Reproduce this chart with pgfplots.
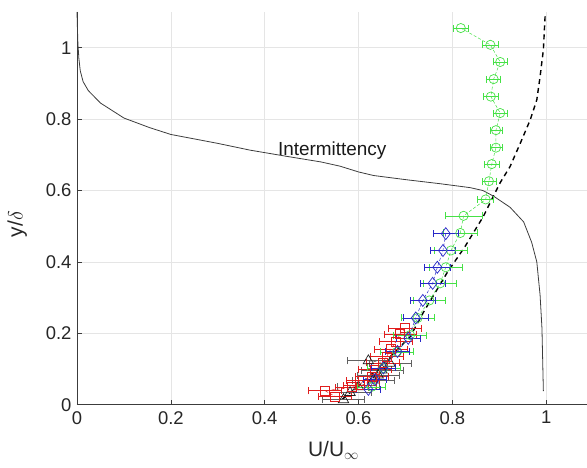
\documentclass[border=0pt]{standalone}
\usepackage{pgfplots}
\pgfplotsset{compat=1.18}
\usepackage{pgfplotstable}
\usepackage{fontspec}
\setmainfont{Liberation Sans}

\definecolor{expgreen}{RGB}{70,225,70}
\definecolor{expblue}{RGB}{40,40,200}
\definecolor{expred}{RGB}{225,30,30}
\definecolor{expblack}{RGB}{30,30,30}
\definecolor{intgray}{RGB}{60,60,60}

% Measured mean-velocity profiles: U/Uinf, y/delta, x-error
\pgfplotstableread{
x y ex
0.818 1.055 0.017
0.881 1.008 0.017
0.902 0.960 0.015
0.888 0.912 0.015
0.882 0.863 0.015
0.902 0.817 0.015
0.893 0.769 0.013
0.893 0.720 0.013
0.884 0.674 0.015
0.878 0.626 0.015
0.871 0.575 0.017
0.824 0.529 0.040
0.817 0.481 0.036
0.797 0.432 0.035
0.786 0.385 0.035
0.774 0.340 0.035
0.751 0.292 0.035
0.726 0.243 0.035
0.710 0.195 0.035
0.682 0.148 0.035
0.653 0.103 0.035
0.628 0.050 0.030
}\greendata

\pgfplotstableread{
x y ex
0.786 0.479 0.027
0.780 0.432 0.027
0.768 0.385 0.027
0.758 0.340 0.027
0.737 0.292 0.027
0.722 0.243 0.027
0.706 0.186 0.025
0.683 0.149 0.025
0.653 0.103 0.025
0.635 0.070 0.025
0.621 0.043 0.025
}\bluedata

\pgfplotstableread{
x y ex
0.699 0.214 0.035
0.689 0.198 0.035
0.680 0.177 0.035
0.669 0.156 0.035
0.660 0.135 0.035
0.651 0.117 0.035
0.635 0.098 0.035
0.628 0.079 0.035
0.610 0.067 0.035
0.603 0.055 0.035
0.586 0.049 0.035
0.529 0.039 0.035
0.550 0.023 0.035
}\reddata

\pgfplotstableread{
x y ex
0.621 0.123 0.045
0.667 0.116 0.045
0.650 0.097 0.045
0.642 0.083 0.045
0.631 0.069 0.045
0.600 0.050 0.045
0.582 0.034 0.045
0.568 0.014 0.045
}\blackdata

% Intermittency profile
\pgfplotstableread{
x y
0.000 1.100
0.001 1.050
0.002 1.010
0.004 0.970
0.007 0.935
0.013 0.905
0.024 0.880
0.050 0.845
0.100 0.803
0.155 0.776
0.200 0.757
0.300 0.732
0.369 0.713
0.450 0.695
0.520 0.680
0.561 0.668
0.600 0.652
0.632 0.642
0.703 0.630
0.774 0.619
0.838 0.608
0.865 0.600
0.888 0.584
0.923 0.553
0.952 0.512
0.969 0.455
0.980 0.400
0.987 0.307
0.991 0.214
0.994 0.038
}\interm

% Reference profile
\pgfplotstableread{
x y
0.565 0.015
0.597 0.050
0.646 0.106
0.710 0.190
0.738 0.258
0.789 0.370
0.827 0.443
0.845 0.482
0.866 0.527
0.887 0.583
0.902 0.622
0.923 0.667
0.945 0.733
0.966 0.798
0.980 0.854
0.987 0.919
0.994 0.994
0.998 1.097
}\reference

\begin{document}
\begin{tikzpicture}
\begin{axis}[
  scale only axis,
  width=510bp, height=392.7bp,
  xmin=0, xmax=1.087, ymin=0, ymax=1.1,
  xtick={0,0.2,0.4,0.6,0.8,1},
  ytick={0,0.2,0.4,0.6,0.8,1},
  xticklabels={0,0.2,0.4,0.6,0.8,1},
  yticklabels={0,0.2,0.4,0.6,0.8,1},
  axis x line*=bottom, axis y line*=left,
  axis line style={-, draw=intgray, line width=0.8pt},
  tick align=inside, major tick length=5bp,
  tick style={intgray, line width=0.6pt},
  grid=major,
  major grid style={black!10, line width=0.5pt},
  ticklabel style={font=\fontsize{18.5}{20}\selectfont, text=black!85},
  xticklabel style={yshift=-3bp},
  yticklabel style={xshift=-2bp},
  xlabel={U/U$_{\infty}$},
  ylabel={y/$\delta$},
  label style={font=\fontsize{21}{24}\selectfont, text=black!85},
  xlabel style={at={(axis description cs:0.503,0)}, anchor=base, yshift=-52bp},
  ylabel style={at={(axis description cs:-0.117,0.46)}, anchor=center, rotate=0},
  clip=false,
  error bars/error bar style={solid, line width=0.6pt},
  error bars/error mark options={solid, rotate=90, mark size=3.5bp, line width=0.6pt},
]

\addplot[intgray, line width=0.8pt] table[x=x,y=y] {\interm};
\addplot[black, line width=1.4pt, dash pattern=on 5bp off 4bp] table[x=x,y=y] {\reference};

\addplot[expblack!75, line width=0.5pt, densely dashed,
  mark=triangle, mark size=6bp, mark options={solid, expblack, line width=0.7pt},
  error bars/.cd, x dir=both, x explicit,
  error bar style={solid, expblack!70, line width=0.6pt}]
  table[x=x,y=y,x error=ex] {\blackdata};

\addplot[expred, line width=0.5pt, densely dashed,
  mark=square, mark size=4.5bp, mark options={solid, line width=0.7pt},
  error bars/.cd, x dir=both, x explicit]
  table[x=x,y=y,x error=ex] {\reddata};

\addplot[expgreen, line width=0.5pt, densely dashed,
  mark=o, mark size=4.6bp, mark options={solid, line width=0.7pt},
  error bars/.cd, x dir=both, x explicit]
  table[x=x,y=y,x error=ex] {\greendata};

\addplot[expblue, line width=0.5pt, densely dashed,
  mark=diamond, mark size=6bp, mark options={solid, line width=0.7pt},
  error bars/.cd, x dir=both, x explicit]
  table[x=x,y=y,x error=ex] {\bluedata};

\node[font=\fontsize{19}{21}\selectfont, text=black!90] at (axis cs:0.544,0.713) {Intermittency};
\end{axis}
\pgfresetboundingbox
\path (-77bp,-63.3bp) rectangle (510bp,404.7bp);
\end{tikzpicture}
\end{document}
